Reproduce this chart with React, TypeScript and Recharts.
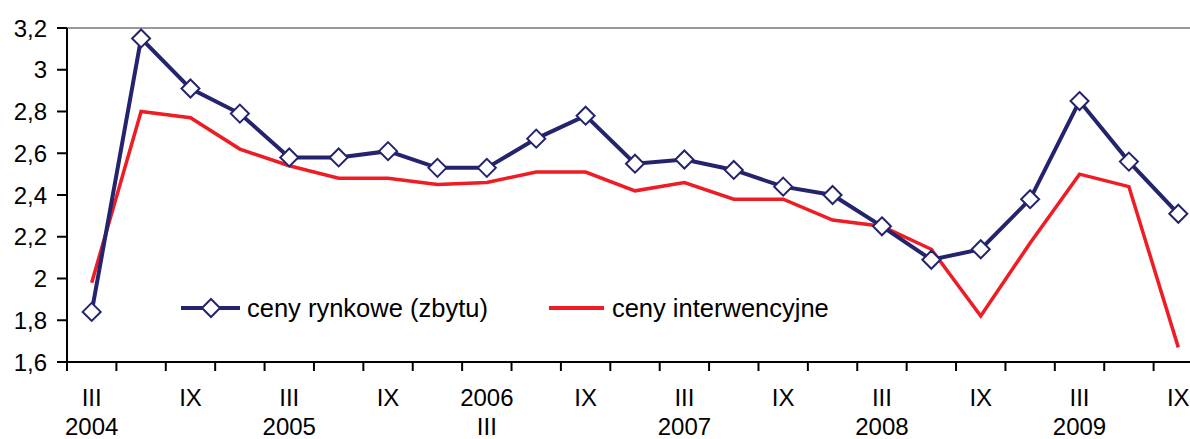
import { LineChart, Line, XAxis, YAxis, ReferenceLine } from "recharts";

// quarterly prices, 2004 III .. 2009 IX
const NAVY = "#24246E";
const RED = "#EE1C24";
const FONT = "'Liberation Sans', Arial, sans-serif";

const rynkowe = [
  1.84, 3.15, 2.91, 2.79, 2.58, 2.58, 2.61, 2.53, 2.53, 2.67, 2.78, 2.55,
  2.57, 2.52, 2.44, 2.4, 2.25, 2.09, 2.14, 2.38, 2.85, 2.56, 2.31,
];
const interwencyjne = [
  1.98, 2.8, 2.77, 2.62, 2.54, 2.48, 2.48, 2.45, 2.46, 2.51, 2.51, 2.42,
  2.46, 2.38, 2.38, 2.28, 2.25, 2.14, 1.82, 2.17, 2.5, 2.44, 1.67,
];
// two label rows under every second quarter
const labelTop = ["III", "IX", "III", "IX", "2006", "IX", "III", "IX", "III", "IX", "III", "IX"];
const labelBottom = ["2004", "", "2005", "", "III", "", "2007", "", "2008", "", "2009", ""];
const yTicks = [1.6, 1.8, 2, 2.2, 2.4, 2.6, 2.8, 3, 3.2];

const data = rynkowe.map((v, i) => ({ i, a: v, b: interwencyjne[i] }));
const xTicks: number[] = [];
for (let k = 0; k <= rynkowe.length; k++) {
  xTicks.push(k - 0.5);
  if (k < rynkowe.length && k % 2 === 0) xTicks.push(k);
}

function Diamond(props: any) {
  const { cx, cy, index } = props;
  if (cx == null || cy == null) return <g key={index} />;
  const r = 9;
  return (
    <polygon
      key={index}
      points={`${cx},${cy - r} ${cx + r},${cy} ${cx},${cy + r} ${cx - r},${cy}`}
      fill="#fff"
      stroke={NAVY}
      strokeWidth={2}
    />
  );
}

function XTick(props: any) {
  const { x, y, payload } = props;
  const v = payload.value as number;
  if (!Number.isInteger(v)) {
    return <line x1={x} x2={x} y1={y} y2={y + 9} stroke="#000" strokeWidth={2} />;
  }
  const k = v / 2;
  return (
    <g fontFamily={FONT} fontSize={24} fill="#000" textAnchor="middle">
      <text x={x} y={y + 44}>{labelTop[k]}</text>
      <text x={x} y={y + 73}>{labelBottom[k]}</text>
    </g>
  );
}

export default function App() {
  return (
    <div style={{ position: "absolute", left: 0, top: 0, width: 1190, height: 439, overflow: "hidden", background: "#fff" }}>
      <LineChart width={1210} height={439} data={data} margin={{ top: 28, right: 7, left: 7, bottom: 0 }}>
        <XAxis
          dataKey="i"
          type="number"
          domain={[-0.5, 22.5]}
          ticks={xTicks}
          interval={0}
          tickLine={false}
          tickSize={0}
          tickMargin={0}
          height={77}
          axisLine={{ stroke: "#000", strokeWidth: 2 }}
          tick={<XTick />}
        />
        <YAxis
          domain={[1.6, 3.2]}
          ticks={yTicks}
          interval={0}
          width={60}
          tickSize={10}
          tickMargin={10}
          axisLine={{ stroke: "#000", strokeWidth: 2 }}
          tickLine={{ stroke: "#000", strokeWidth: 2 }}
          tick={{ fill: "#000", fontSize: 24, fontFamily: FONT }}
          tickFormatter={(v: number) => String(v).replace(".", ",")}
        />
        <ReferenceLine y={3.2} stroke="#999" strokeWidth={2} />
        <Line dataKey="b" stroke={RED} strokeWidth={3.5} dot={false} isAnimationActive={false} />
        <Line dataKey="a" stroke={NAVY} strokeWidth={4} dot={<Diamond />} isAnimationActive={false} />
      </LineChart>
      <div style={{ position: "absolute", left: 181, top: 292, height: 32, display: "flex", alignItems: "center", fontFamily: FONT, fontSize: 25.5, color: "#000", whiteSpace: "nowrap" }}>
        <svg width={60} height={32}>
          <line x1={0} x2={59} y1={16} y2={16} stroke={NAVY} strokeWidth={4} />
          <polygon points="30,7 39,16 30,25 21,16" fill="#fff" stroke={NAVY} strokeWidth={2} />
        </svg>
        <span style={{ marginLeft: 6 }}>ceny rynkowe (zbytu)</span>
        <svg width={56} height={32} style={{ marginLeft: 61 }}>
          <line x1={0} x2={55} y1={16} y2={16} stroke={RED} strokeWidth={4} />
        </svg>
        <span style={{ marginLeft: 7 }}>ceny interwencyjne</span>
      </div>
    </div>
  );
}
